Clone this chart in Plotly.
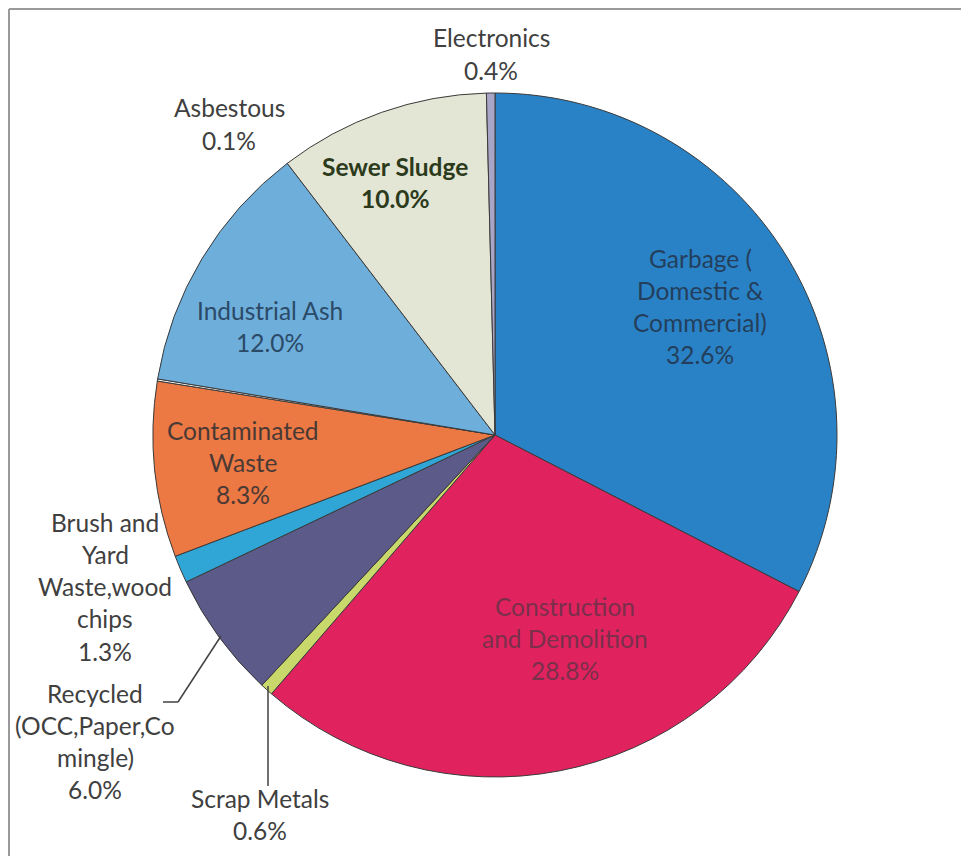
import plotly.graph_objects as go

W, H = 969, 856
OFF = 8  # page body margin offset in the screenshot

categories = [
    "Garbage ( Domestic & Commercial)",
    "Construction and Demolition",
    "Scrap Metals",
    "Recycled (OCC,Paper,Co mingle)",
    "Brush and Yard Waste,wood chips",
    "Contaminated Waste",
    "Asbestous",
    "Industrial Ash",
    "Sewer Sludge",
    "Electronics",
]
values = [32.6, 28.8, 0.6, 6.0, 1.3, 8.3, 0.1, 12.0, 10.0, 0.4]
slice_colors = ["#2a82c6", "#e0235f", "#c9d86a", "#5b5a88", "#2fa6d6",
                "#ec7843", "#f4f2ee", "#6eaedb", "#e3e6d4", "#a9a5c6"]

# label text lines, label centre (px) and colour
label_lines = [
    ["Garbage (", "Domestic &", "Commercial)", "32.6%"],
    ["Construction", "and Demolition", "28.8%"],
    ["Scrap Metals", "0.6%"],
    ["Recycled", "(OCC,Paper,Co", "mingle)", "6.0%"],
    ["Brush and", "Yard", "Waste,wood", "chips", "1.3%"],
    ["Contaminated", "Waste", "8.3%"],
    ["Asbestous", "0.1%"],
    ["Industrial Ash", "12.0%"],
    ["Sewer Sludge", "10.0%"],
    ["Electronics", "0.4%"],
]
label_pos = [(700, 258), (565, 606), (260, 798), (95, 693), (105, 522),
             (243, 430), (229, 108), (270, 310), (395, 166), (491, 38)]
label_colors = ["#233f5c", "#7a2f4a", "#404040", "#404040", "#404040",
                "#4a3a36", "#404040", "#2b4a68", "#2c3a1c", "#404040"]
label_bold = [False, False, False, False, False, False, False, False, True, False]
LINE_GAP = 32.3

cx, cy, R = 495, 435, 342


def px2x(px):
    return (px - OFF) / W


def py2y(py):
    return 1 - (py - OFF) / H


fig = go.Figure(go.Pie(
    labels=categories,
    values=values,
    sort=False,
    direction="clockwise",
    rotation=0,
    textinfo="none",
    hoverinfo="label+percent",
    marker=dict(colors=slice_colors, line=dict(color="#3a3a3a", width=1)),
    domain=dict(x=[px2x(cx - R), px2x(cx + R)], y=[py2y(cy + R), py2y(cy - R)]),
    showlegend=False,
))

annotations = []
for lines, (px, py), col, bold in zip(label_lines, label_pos, label_colors, label_bold):
    for i, line in enumerate(lines):
        annotations.append(dict(
            x=px2x(px), y=py2y(py + i * LINE_GAP), xref="paper", yref="paper",
            text=f"<b>{line}</b>" if bold else line,
            showarrow=False, xanchor="center", yanchor="middle",
            font=dict(family="Lato", size=24.5, color=col),
        ))


def pline(x0, y0, x1, y1, color="#404040", width=1.5):
    return dict(type="line", xref="paper", yref="paper",
                x0=px2x(x0), y0=py2y(y0), x1=px2x(x1), y1=py2y(y1),
                line=dict(color=color, width=width))


shapes = [
    pline(163, 702, 178, 702),
    pline(178, 702, 221, 636),
    pline(268, 686, 268, 786),
    pline(9, 9, 977, 9, color="#9a9a9a", width=2),
    pline(9, 9, 9, 864, color="#9a9a9a", width=2),
]

fig.update_layout(
    width=W, height=H,
    margin=dict(l=0, r=0, t=0, b=0),
    paper_bgcolor="white",
    plot_bgcolor="white",
    annotations=annotations,
    shapes=shapes,
)

fig.write_html("out.html")
